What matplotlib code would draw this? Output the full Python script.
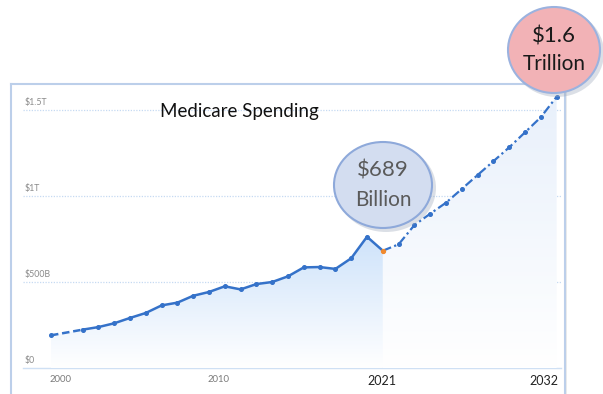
import numpy as np
import matplotlib
matplotlib.use("Agg")
import matplotlib.pyplot as plt
from matplotlib.patches import Ellipse
from matplotlib.colors import LinearSegmentedColormap

plt.rcParams['font.family'] = ['Lato', 'DejaVu Sans']

# Medicare spending, billions of dollars
hist_years = [2000, 2002, 2003, 2004, 2005, 2006, 2007, 2008, 2009, 2010,
              2011, 2012, 2013, 2014, 2015, 2016, 2017, 2018, 2019, 2020, 2021]
hist_spend = [190, 223, 238, 260, 291, 320, 364, 380, 420, 442,
              475, 457, 488, 500, 533, 585, 587, 576, 638, 763, 682]
proj_years = [2021, 2022, 2023, 2024, 2025, 2026, 2027, 2028, 2029, 2030, 2031, 2032]
proj_spend = [682, 719, 831, 897, 961, 1041, 1122, 1202, 1283, 1370, 1458, 1577]

y_ticks = [0, 500, 1000, 1500]
y_tick_labels = ['$0', '$500B', '$1T', '$1.5T']
x_minor_labels = [2000, 2010]
x_major_labels = [2021, 2032]

line_col = '#3572c9'
W, H = 603, 394

fig = plt.figure(figsize=(W / 100, H / 100), dpi=100)
fig.patch.set_facecolor('white')

# faint shadow of the chart box
sh = fig.add_axes([13 / W, 0, (565 - 11) / W, (394 - 86) / H])
sh.set_xticks([])
sh.set_yticks([])
sh.set_facecolor('#ececec')
for s in sh.spines.values():
    s.set_visible(False)

# main axes: pixel box 11..565 wide, 84..394 tall
ax = fig.add_axes([11 / W, 0, (565 - 11) / W, (394 - 84) / H])
ax.set_xticks([])
ax.set_yticks([])
for s in ['left', 'top', 'right']:
    ax.spines[s].set_color('#bccfea')
    ax.spines[s].set_linewidth(1.5)
ax.spines['bottom'].set_visible(False)

# gridlines and baseline
for v in y_ticks[1:]:
    ax.plot([1998.2, 2032.3], [v, v], color='#c6daf2', lw=0.9, ls=(0, (1, 1.2)), zorder=1)
ax.plot([1998.2, 2032.3], [0, 0], color='#cfe0f4', lw=1.0, zorder=1)

for v, lab in zip(y_ticks, y_tick_labels):
    ax.text(1998.3, v + 18, lab, fontsize=6.3, color='#8a8a8a', ha='left', va='bottom')

for yr in x_minor_labels:
    ax.text(yr + 0.6, -40, str(yr), fontsize=6.8, color='#7a7a7a', ha='center', va='top')
for yr in x_major_labels:
    ax.text(yr - 0.05 if yr == 2021 else yr - 0.8, -40, str(yr), fontsize=9,
            color='#222222', ha='center', va='top')

# gradient fills
grad = np.linspace(0, 1, 256).reshape(-1, 1)
cm_hist = LinearSegmentedColormap.from_list('h', ['#ffffff', '#cde2fa'])
cm_proj = LinearSegmentedColormap.from_list('p', ['#ffffff', '#e8f0fb'])

poly_h = ax.fill_between(hist_years, hist_spend, 0, color='none', lw=0)
img_h = ax.imshow(grad, cmap=cm_hist, aspect='auto', origin='lower',
                  extent=[2000, 2021, 0, 780], zorder=2)
img_h.set_clip_path(poly_h.get_paths()[0], transform=ax.transData)

poly_p = ax.fill_between(proj_years, proj_spend, 0, color='none', lw=0)
img_p = ax.imshow(grad, cmap=cm_proj, aspect='auto', origin='lower',
                  extent=[2021, 2032, 0, 1600], zorder=2)
img_p.set_clip_path(poly_p.get_paths()[0], transform=ax.transData)
ax.set_xlim(1997.47, 2032.53)
ax.set_ylim(-151, 1651)

# lines
ax.plot(hist_years[:2], hist_spend[:2], color=line_col, lw=1.8, ls=(0, (3, 1.5)), zorder=3)
ax.plot(hist_years[1:], hist_spend[1:], color=line_col, lw=1.8, zorder=3)
ax.plot(proj_years, proj_spend, color=line_col, lw=1.6, ls=(0, (4, 1.5, 1, 1.5)), zorder=3)
ax.plot(hist_years[:-1], hist_spend[:-1], 'o', color=line_col, ms=2.6, zorder=4)
ax.plot(proj_years[1:], proj_spend[1:], 'o', color=line_col, ms=2.6, zorder=4)
ax.plot(hist_years[-1:], hist_spend[-1:], 'o', color='#f0892e', ms=2.8, zorder=5)

ax.text(2006.9, 1490, 'Medicare Spending', fontsize=13.5, color='#111111',
        ha='left', va='center')

# overlay for callout bubbles, in pixel coordinates
ov = fig.add_axes([0, 0, 1, 1])
ov.set_xlim(0, W)
ov.set_ylim(H, 0)
ov.axis('off')
ov.patch.set_alpha(0)

ov.add_patch(Ellipse((386, 188), 100, 88, facecolor='#9aa6b8', edgecolor='none', alpha=0.35))
ov.add_patch(Ellipse((383, 185), 98, 86, facecolor='#d3ddf0', edgecolor='#8ea9da', lw=1.5))
ov.text(383, 170, '$689', fontsize=16, color='#5a5a5a', ha='center', va='center')
ov.text(383, 200, 'Billion', fontsize=15, color='#5a5a5a', ha='center', va='center')

ov.add_patch(Ellipse((557, 53), 94, 88, facecolor='#9aa6b8', edgecolor='none', alpha=0.35))
ov.add_patch(Ellipse((554, 50), 92, 86, facecolor='#f2b2b6', edgecolor='#9bb2df', lw=1.5))
ov.text(554, 36, '$1.6', fontsize=16, color='#1a1a1a', ha='center', va='center')
ov.text(554, 64, 'Trillion', fontsize=15, color='#1a1a1a', ha='center', va='center')

fig.savefig('out.png', dpi=100)
